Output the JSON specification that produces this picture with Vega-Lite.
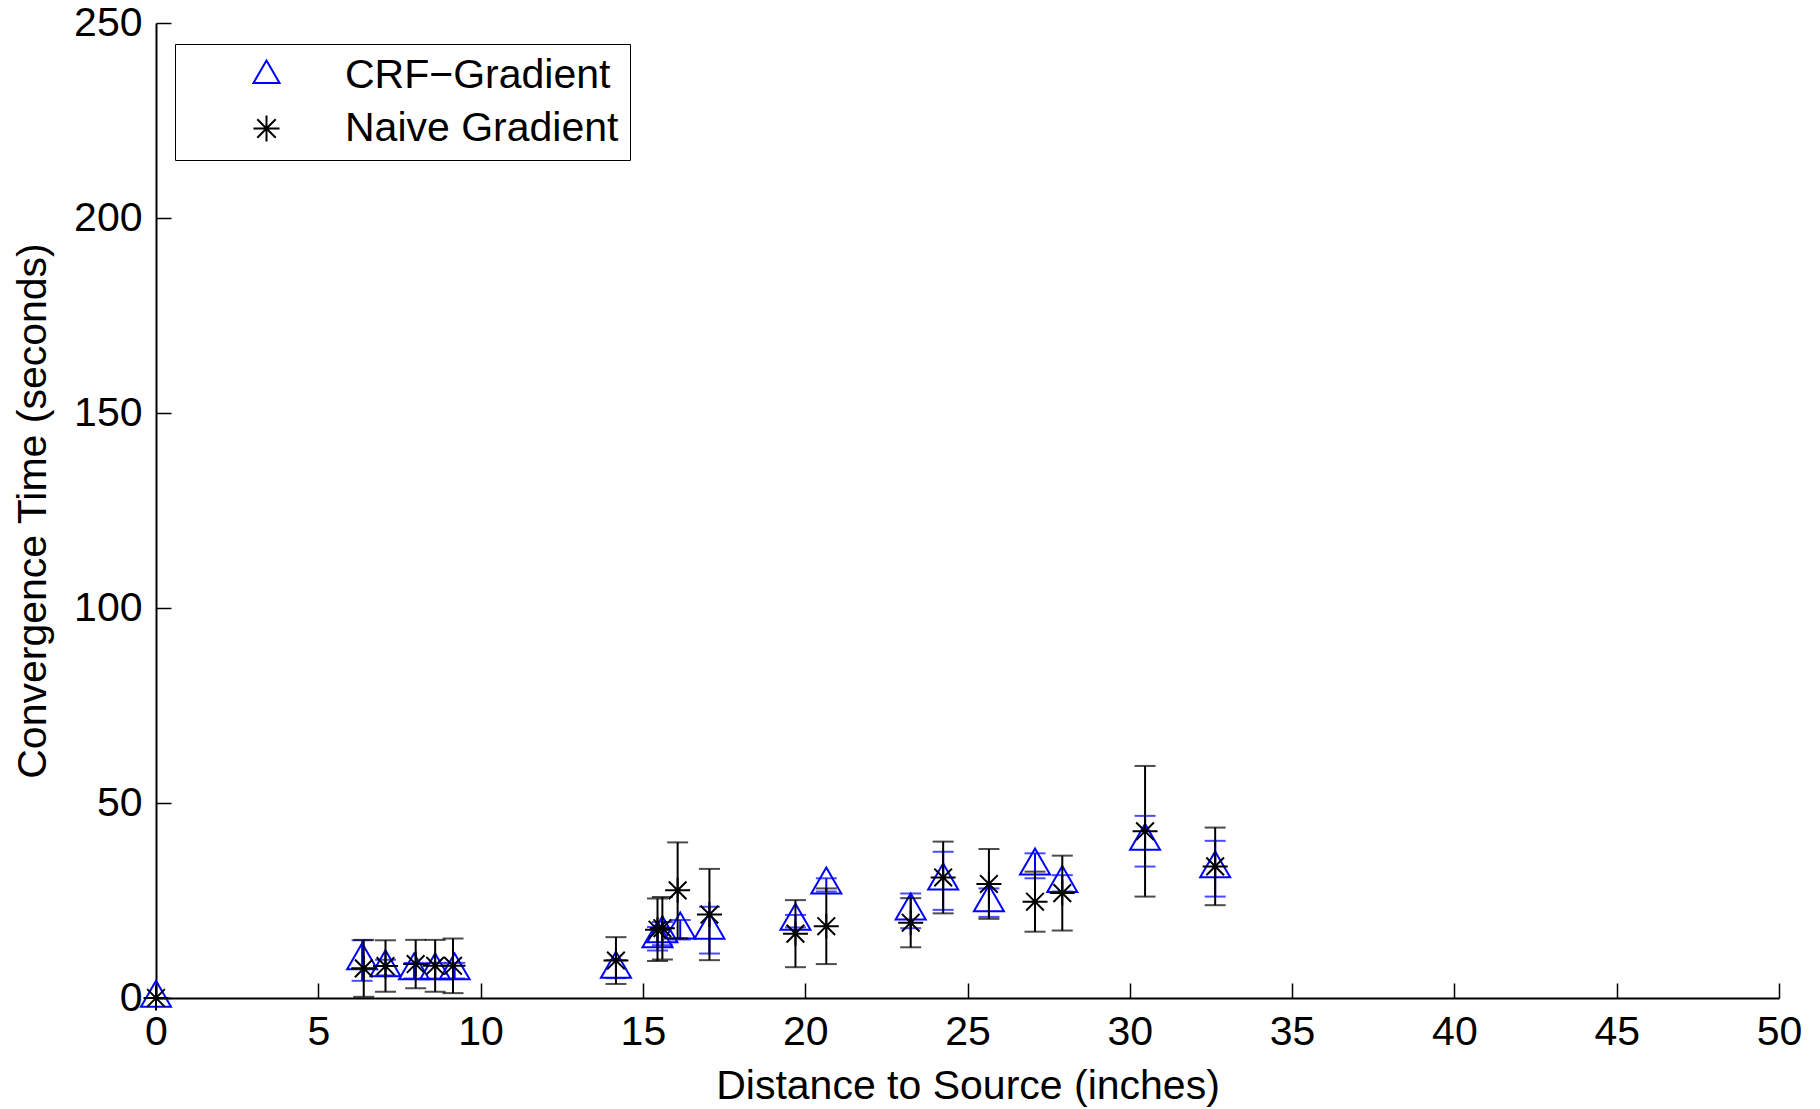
{
  "$schema": "https://vega.github.io/schema/vega-lite/v6.json",
  "width": 1623,
  "height": 975,
  "autosize": {"type": "none"},
  "padding": {"left": 156, "top": 23, "right": 41, "bottom": 111},
  "background": "white",
  "config": {
    "view": {"stroke": null},
    "font": "Liberation Sans",
    "axis": {
      "grid": false,
      "domainColor": "black",
      "domainWidth": 2,
      "tickColor": "black",
      "tickWidth": 1.5,
      "tickSize": -15,
      "labelPadding": 29,
      "labelFlush": false,
      "labelOverlap": false,
      "labelFont": "Liberation Sans",
      "labelFontSize": 41,
      "labelColor": "black",
      "titleFont": "Liberation Sans",
      "titleFontSize": 41,
      "titleFontWeight": "normal",
      "titleColor": "black"
    },
    "legend": {
      "orient": "none",
      "legendX": 19,
      "legendY": 21,
      "strokeColor": "black",
      "padding": 11,
      "rowPadding": 11,
      "labelFont": "Liberation Sans",
      "labelFontSize": 41,
      "labelColor": "black",
      "symbolSize": 680,
      "symbolStrokeWidth": 2,
      "symbolOffset": 60,
      "labelOffset": 58,
      "labelLimit": 700
    }
  },
  "data": {
    "values": [
      {"series": "CRF−Gradient", "x": 0, "y": 0, "err": 0},
      {"series": "CRF−Gradient", "x": 6.35, "y": 9.6, "err": 5.2},
      {"series": "CRF−Gradient", "x": 7.07, "y": 7.8, "err": 2},
      {"series": "CRF−Gradient", "x": 7.95, "y": 7.0, "err": 2},
      {"series": "CRF−Gradient", "x": 8.6, "y": 7.0, "err": 2},
      {"series": "CRF−Gradient", "x": 9.2, "y": 7.0, "err": 2},
      {"series": "CRF−Gradient", "x": 14.17, "y": 7.4, "err": 2.3},
      {"series": "CRF−Gradient", "x": 15.45, "y": 15.2, "err": 3},
      {"series": "CRF−Gradient", "x": 15.6, "y": 16.5, "err": 3},
      {"series": "CRF−Gradient", "x": 16.15, "y": 17.5, "err": 2.5},
      {"series": "CRF−Gradient", "x": 17.05, "y": 17.4, "err": 6},
      {"series": "CRF−Gradient", "x": 19.7, "y": 19.7, "err": 1.6},
      {"series": "CRF−Gradient", "x": 20.65, "y": 29.0, "err": 1.7},
      {"series": "CRF−Gradient", "x": 23.25, "y": 22.35, "err": 4.45},
      {"series": "CRF−Gradient", "x": 24.25, "y": 30.05, "err": 7.45},
      {"series": "CRF−Gradient", "x": 25.66, "y": 24.45, "err": 3.65},
      {"series": "CRF−Gradient", "x": 27.08, "y": 33.9, "err": 3.2},
      {"series": "CRF−Gradient", "x": 27.92, "y": 29.4, "err": 2.1},
      {"series": "CRF−Gradient", "x": 30.47, "y": 40.2, "err": 6.5},
      {"series": "CRF−Gradient", "x": 32.63, "y": 33.15, "err": 7.15},
      {"series": "Naive Gradient", "x": 0, "y": 0, "err": 0},
      {"series": "Naive Gradient", "x": 6.4, "y": 7.6, "err": 7.3},
      {"series": "Naive Gradient", "x": 7.07, "y": 8.2, "err": 6.6},
      {"series": "Naive Gradient", "x": 8.0, "y": 8.7, "err": 6.2},
      {"series": "Naive Gradient", "x": 8.6, "y": 8.25, "err": 6.65},
      {"series": "Naive Gradient", "x": 9.15, "y": 8.25, "err": 7.0},
      {"series": "Naive Gradient", "x": 14.17, "y": 9.6, "err": 6.0},
      {"series": "Naive Gradient", "x": 15.45, "y": 17.5, "err": 8.0},
      {"series": "Naive Gradient", "x": 15.6, "y": 17.9, "err": 8.0},
      {"series": "Naive Gradient", "x": 16.07, "y": 27.6, "err": 12.3},
      {"series": "Naive Gradient", "x": 17.05, "y": 21.4, "err": 11.7},
      {"series": "Naive Gradient", "x": 19.7, "y": 16.5, "err": 8.6},
      {"series": "Naive Gradient", "x": 20.65, "y": 18.4, "err": 9.7},
      {"series": "Naive Gradient", "x": 23.25, "y": 19.3, "err": 6.3},
      {"series": "Naive Gradient", "x": 24.25, "y": 30.9, "err": 9.2},
      {"series": "Naive Gradient", "x": 25.66, "y": 29.25, "err": 8.95},
      {"series": "Naive Gradient", "x": 27.08, "y": 24.7, "err": 7.7},
      {"series": "Naive Gradient", "x": 27.92, "y": 26.9, "err": 9.6},
      {"series": "Naive Gradient", "x": 30.47, "y": 42.75, "err": 16.75},
      {"series": "Naive Gradient", "x": 32.63, "y": 33.75, "err": 9.95}
    ]
  },
  "transform": [
    {"calculate": "datum.y - datum.err", "as": "lo"},
    {"calculate": "datum.y + datum.err", "as": "hi"}
  ],
  "encoding": {
    "x": {
      "field": "x",
      "type": "quantitative",
      "scale": {"domain": [0, 50], "nice": false, "zero": false},
      "axis": {"values": [0, 5, 10, 15, 20, 25, 30, 35, 40, 45, 50], "title": "Distance to Source (inches)", "titlePadding": 14}
    }
  },
  "layer": [
    {
      "transform": [{"filter": "datum.series === 'CRF−Gradient'"}],
      "layer": [
        {
          "mark": {"type": "rule", "color": "#0000ff", "strokeWidth": 2},
          "encoding": {
            "y": {"field": "lo", "type": "quantitative", "scale": {"domain": [0, 250], "nice": false}, "axis": {"values": [0, 50, 100, 150, 200, 250], "title": "Convergence Time (seconds)", "titlePadding": 19}},
            "y2": {"field": "hi"}
          }
        },
        {
          "mark": {"type": "tick", "orient": "horizontal", "color": "#0000ff", "size": 21, "thickness": 2},
          "encoding": {"y": {"field": "lo", "type": "quantitative"}}
        },
        {
          "mark": {"type": "tick", "orient": "horizontal", "color": "#0000ff", "size": 21, "thickness": 2},
          "encoding": {"y": {"field": "hi", "type": "quantitative"}}
        },
        {
          "mark": {"type": "point", "filled": false, "strokeWidth": 2, "size": 900, "opacity": 1},
          "encoding": {
            "y": {"field": "y", "type": "quantitative"},
            "color": {"field": "series", "type": "nominal", "scale": {"domain": ["CRF−Gradient", "Naive Gradient"], "range": ["#0000ff", "#000000"]}, "legend": {"title": null, "encode": {"legend": {"update": {"strokeWidth": {"value": 2}}}}}},
            "shape": {"field": "series", "type": "nominal", "scale": {"domain": ["CRF−Gradient", "Naive Gradient"], "range": ["M0,-1.155L1,0.577L-1,0.577Z", "M-1,0L1,0M0,-1L0,1M-0.707,-0.707L0.707,0.707M-0.707,0.707L0.707,-0.707"]}, "legend": {"title": null}}
          }
        }
      ]
    },
    {
      "transform": [{"filter": "datum.series === 'Naive Gradient'"}],
      "layer": [
        {
          "mark": {"type": "rule", "color": "#000000", "strokeWidth": 2},
          "encoding": {
            "y": {"field": "lo", "type": "quantitative"},
            "y2": {"field": "hi"}
          }
        },
        {
          "mark": {"type": "tick", "orient": "horizontal", "color": "#000000", "size": 21, "thickness": 2},
          "encoding": {"y": {"field": "lo", "type": "quantitative"}}
        },
        {
          "mark": {"type": "tick", "orient": "horizontal", "color": "#000000", "size": 21, "thickness": 2},
          "encoding": {"y": {"field": "hi", "type": "quantitative"}}
        },
        {
          "mark": {"type": "point", "filled": false, "strokeWidth": 2, "size": 625, "opacity": 1},
          "encoding": {
            "y": {"field": "y", "type": "quantitative"},
            "color": {"field": "series", "type": "nominal", "scale": {"domain": ["CRF−Gradient", "Naive Gradient"], "range": ["#0000ff", "#000000"]}, "legend": {"title": null, "encode": {"legend": {"update": {"strokeWidth": {"value": 2}}}}}},
            "shape": {"field": "series", "type": "nominal", "scale": {"domain": ["CRF−Gradient", "Naive Gradient"], "range": ["M0,-1.155L1,0.577L-1,0.577Z", "M-1,0L1,0M0,-1L0,1M-0.707,-0.707L0.707,0.707M-0.707,0.707L0.707,-0.707"]}, "legend": {"title": null}}
          }
        }
      ]
    }
  ]
}
